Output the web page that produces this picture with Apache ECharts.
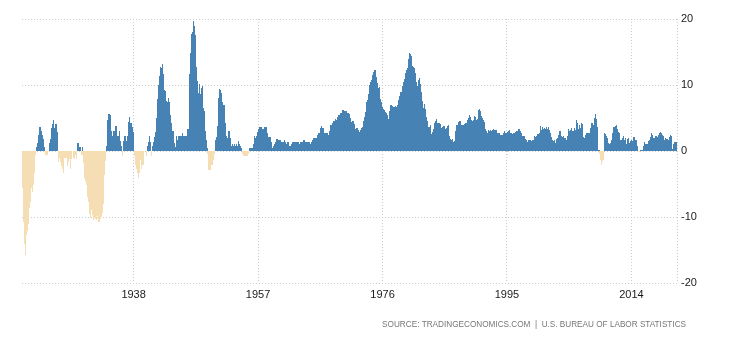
<!DOCTYPE html>
<html><head><meta charset="utf-8">
<script src="https://cdn.jsdelivr.net/npm/echarts@6/dist/echarts.min.js"></script>
<style>html,body{margin:0;padding:0;background:#fff}#c{width:730px;height:340px}</style>
</head><body><div id="c"></div>
<script>
// US inflation rate (YoY %, monthly), Jan 1921 .. Dec 2020
const startYear = 1921;
const infl1921to1930 = [
 -1.6,-5.6,-7.1,-10.8,-14.1,-15.8,-14.9,-12.8,-12.5,-12.1,-12.1,-10.8,
 -11.1,-8.2,-8.7,-7.7,-5.6,-5.1,-5.1,-6.2,-5.1,-4.6,-3.4,-2.3,
 -0.6,-0.6,0.6,1.2,1.2,1.8,2.4,3.0,3.6,3.6,3.0,2.4,
 3.0,2.4,1.8,0.6,0.6,0.0,-0.6,-0.6,-0.6,-0.6,-0.6,0.0,
 0.0,0.0,1.2,1.2,1.8,2.9,3.5,4.1,3.5,2.9,4.7,3.5,
 3.5,4.1,2.9,4.1,2.9,1.1,-1.1,-1.7,-1.1,-0.6,-1.7,-1.1,
 -2.2,-2.8,-2.8,-3.4,-2.2,-0.6,-1.1,-1.1,-1.1,-1.1,-2.3,-2.3,
 -1.1,-1.7,-1.2,-1.2,-1.1,-2.8,-1.2,-0.6,0.0,-1.1,-0.6,-1.2,
 -1.2,0.0,-0.6,-1.2,-1.2,0.0,1.2,1.2,0.0,0.6,0.6,0.6,
 0.0,-0.6,-0.6,0.6,-0.6,-1.8,-4.1,-4.6,-4.1,-4.6,-5.2,-6.4
];
const infl1931to1940 = [
 -7.0,-7.6,-7.7,-8.8,-9.5,-10.1,-9.0,-8.5,-9.6,-9.7,-10.4,-9.3,
 -10.1,-10.2,-10.3,-10.3,-10.5,-9.9,-9.9,-10.6,-10.7,-10.7,-10.2,-10.3,
 -9.8,-9.9,-10.0,-9.4,-8.0,-6.6,-3.7,-2.2,-1.5,-0.8,0.0,0.8,
 2.3,4.7,5.6,5.6,5.6,5.5,2.3,1.5,3.0,2.3,2.3,1.5,
 3.0,3.0,3.0,3.8,3.8,2.2,2.2,2.2,2.2,1.5,2.2,3.0,
 1.5,0.7,0.0,-0.7,-0.7,0.7,1.5,2.2,2.2,2.2,1.5,1.5,
 2.2,2.2,3.6,4.4,5.1,4.3,4.3,3.6,4.3,4.3,3.6,2.9,
 0.7,0.0,-0.7,-0.7,-2.1,-2.1,-2.8,-2.8,-3.4,-4.1,-3.4,-2.8,
 -1.4,-1.4,-1.4,-2.8,-2.1,-2.1,-2.1,-2.1,0.0,0.0,0.0,0.0,
 -0.7,0.7,0.7,1.4,1.4,2.2,1.4,1.4,-0.7,0.0,0.0,0.7
];
const infl1941to1950 = [
 1.4,0.7,1.4,2.1,2.9,4.3,5.0,6.4,7.9,9.3,10.0,9.9,
 11.3,12.1,12.7,12.6,13.2,10.9,11.6,10.7,9.3,9.2,9.1,9.0,
 7.6,7.0,7.5,8.1,7.4,7.4,6.1,4.8,5.5,4.2,3.6,3.0,
 3.0,3.0,1.2,0.6,0.0,0.6,1.7,2.3,1.7,1.7,1.7,2.3,
 2.3,2.3,2.3,1.7,2.3,2.8,2.3,2.3,2.3,2.3,2.3,2.2,
 2.2,1.7,2.8,3.4,3.4,3.3,9.4,11.6,12.7,14.9,17.7,18.1,
 18.1,18.8,19.7,19.0,18.4,17.6,12.1,11.4,12.7,10.6,8.4,8.8,
 10.2,9.3,6.8,8.7,9.1,9.5,9.9,8.9,6.5,6.1,4.8,3.0,
 1.3,1.3,1.7,0.4,-0.4,-0.8,-2.9,-2.9,-2.4,-2.9,-1.7,-2.1,
 -2.1,-1.3,-0.8,-1.3,-0.4,-0.4,1.7,2.1,2.1,3.8,3.8,5.9
];
const infl1951to1960 = [
 8.1,9.4,9.3,9.3,9.3,8.8,7.5,6.6,7.0,6.5,6.9,6.0,
 4.3,2.3,1.9,2.3,1.9,2.3,3.1,3.1,2.3,1.9,1.1,0.8,
 0.4,0.8,1.1,0.8,1.1,1.1,0.4,0.7,0.7,1.1,0.7,0.7,
 1.1,1.5,1.1,0.7,0.7,0.4,0.4,0.0,-0.4,-0.7,-0.4,-0.7,
 -0.7,-0.7,-0.7,-0.4,-0.7,-0.7,-0.4,-0.4,0.4,0.4,0.4,0.4,
 0.4,0.4,0.4,0.7,1.1,1.9,2.2,1.9,1.9,2.2,2.2,2.9,
 2.9,3.3,3.6,3.6,3.6,3.3,3.3,3.6,3.3,2.9,3.3,2.9,
 3.6,3.2,3.6,3.6,3.2,2.8,2.4,2.1,2.1,2.1,2.1,1.8,
 1.4,1.1,0.4,0.4,0.4,0.7,0.7,1.1,1.4,1.8,1.4,1.8,
 1.0,1.7,1.4,1.7,1.7,1.7,1.4,1.4,1.0,1.4,1.4,1.4
];
const infl1961to1970 = [
 1.7,1.4,1.4,1.0,1.0,0.7,1.3,1.0,1.3,0.7,0.7,0.7,
 0.7,1.0,1.0,1.3,1.3,1.3,1.0,1.3,1.3,1.3,1.3,1.3,
 1.3,1.0,1.3,1.0,1.0,1.3,1.3,1.3,1.0,1.3,1.3,1.6,
 1.6,1.6,1.3,1.3,1.3,1.3,1.3,1.0,1.3,1.0,1.3,1.0,
 1.0,1.0,1.3,1.6,1.6,1.9,1.6,1.9,1.6,1.9,1.6,1.9,
 1.9,2.5,2.5,2.8,2.8,2.5,2.8,3.5,3.5,3.8,3.5,3.5,
 3.5,2.8,2.8,2.5,2.8,2.8,2.8,2.5,2.8,2.5,2.8,3.0,
 3.6,3.9,3.9,3.9,3.9,4.2,4.5,4.5,4.5,4.8,4.8,4.7,
 4.4,4.7,5.2,5.5,5.5,5.5,5.4,5.7,5.7,5.7,5.9,6.2,
 6.2,6.1,5.8,6.1,6.0,6.0,6.0,5.4,5.7,5.7,5.6,5.6
];
const infl1971to1980 = [
 5.3,5.0,4.7,4.2,4.4,4.6,4.4,4.6,4.1,3.8,3.3,3.3,
 3.3,3.5,3.5,3.5,3.2,2.7,2.9,2.9,3.2,3.5,3.5,3.4,
 3.6,3.9,4.6,5.1,5.5,5.9,5.7,7.4,7.4,7.8,8.3,8.7,
 9.4,10.0,10.4,10.1,10.7,10.9,11.5,10.9,11.9,12.1,12.2,12.3,
 11.8,11.2,10.3,10.2,9.5,9.3,9.7,8.6,7.9,7.4,7.4,6.9,
 6.7,6.3,6.1,6.0,6.2,5.9,5.3,5.7,5.5,5.5,4.9,4.9,
 5.2,6.0,6.4,6.9,6.7,6.9,6.8,6.6,6.6,6.4,6.7,6.7,
 6.8,6.4,6.6,6.5,7.0,7.4,7.7,7.9,8.3,8.9,8.9,9.0,
 9.3,9.9,10.1,10.5,10.9,10.9,11.3,11.8,12.2,12.1,12.6,13.3,
 13.9,14.2,14.8,14.7,14.4,14.4,13.1,12.9,12.6,12.8,12.6,12.5
];
const infl1981to1990 = [
 11.8,11.4,10.5,10.0,9.8,9.6,10.8,10.8,11.0,10.1,9.6,8.9,
 8.4,7.6,6.8,6.5,6.7,7.1,6.4,5.9,5.0,5.1,4.6,3.8,
 3.7,3.5,3.6,3.9,3.5,2.6,2.5,2.6,2.9,2.9,3.3,3.8,
 4.2,4.6,4.8,4.6,4.2,4.2,4.2,4.3,4.3,4.3,4.1,3.9,
 3.5,3.5,3.7,3.7,3.8,3.8,3.6,3.3,3.1,3.2,3.5,3.8,
 3.9,3.1,2.2,1.6,1.5,1.8,1.6,1.6,1.8,1.5,1.3,1.1,
 1.5,2.1,3.0,3.8,3.9,3.7,3.9,4.3,4.4,4.5,4.5,4.4,
 4.0,3.9,3.9,3.9,3.9,4.0,4.1,4.0,4.2,4.2,4.2,4.4,
 4.7,4.8,5.0,5.1,5.4,5.2,5.0,4.7,4.3,4.5,4.7,4.6,
 5.2,5.3,5.2,4.7,4.4,4.7,4.8,5.6,6.2,6.3,6.3,6.1
];
const infl1991to2000 = [
 5.7,5.3,4.9,4.9,5.0,4.7,4.4,3.8,3.4,2.9,3.0,3.1,
 2.6,2.8,3.2,3.2,3.0,3.1,3.2,3.1,3.0,3.2,3.0,2.9,
 3.3,3.2,3.1,3.2,3.2,3.0,2.8,2.8,2.7,2.8,2.7,2.7,
 2.5,2.5,2.5,2.4,2.3,2.5,2.8,2.9,3.0,2.6,2.7,2.7,
 2.8,2.9,2.9,3.1,3.2,3.0,2.8,2.6,2.5,2.8,2.6,2.5,
 2.7,2.7,2.8,2.9,2.9,2.8,3.0,2.9,3.0,3.0,3.3,3.3,
 3.0,3.0,2.8,2.5,2.2,2.3,2.2,2.2,2.2,2.1,1.8,1.7,
 1.6,1.4,1.4,1.4,1.7,1.7,1.7,1.6,1.5,1.5,1.5,1.6,
 1.7,1.6,1.7,2.3,2.1,2.0,2.1,2.3,2.6,2.6,2.6,2.7,
 2.7,3.2,3.8,3.1,3.2,3.7,3.7,3.4,3.5,3.4,3.4,3.4
];
const infl2001to2010 = [
 3.7,3.5,2.9,3.3,3.6,3.2,2.7,2.7,2.6,2.1,1.9,1.6,
 1.1,1.1,1.5,1.6,1.2,1.1,1.5,1.8,1.5,2.0,2.2,2.4,
 2.6,3.0,3.0,2.2,2.1,2.1,2.1,2.2,2.3,2.0,1.8,1.9,
 1.9,1.7,1.7,2.3,3.1,3.3,3.0,2.7,2.5,3.2,3.5,3.3,
 3.0,3.0,3.1,3.5,2.8,2.5,3.2,3.6,4.7,4.3,3.5,3.4,
 4.0,3.6,3.4,3.5,4.2,4.3,4.1,3.8,2.1,1.3,2.0,2.5,
 2.1,2.4,2.8,2.6,2.7,2.7,2.4,2.0,2.8,3.5,4.3,4.1,
 4.3,4.0,4.0,3.9,4.2,5.0,5.6,5.4,4.9,3.7,1.1,0.1,
 0.0,0.2,-0.4,-0.7,-1.3,-1.4,-2.1,-1.5,-1.3,-0.2,1.8,2.7,
 2.6,2.1,2.3,2.2,2.0,1.1,1.2,1.1,1.1,1.2,1.1,1.5
];
const infl2011to2020 = [
 1.6,2.1,2.7,3.2,3.6,3.6,3.6,3.8,3.9,3.5,3.4,3.0,
 2.9,2.9,2.7,2.3,1.7,1.7,1.4,1.7,2.0,2.2,1.8,1.7,
 1.6,2.0,1.5,1.1,1.4,1.8,2.0,1.5,1.2,1.0,1.2,1.5,
 1.6,1.1,1.5,2.0,2.1,2.1,2.0,1.7,1.7,1.7,1.3,0.8,
 -0.1,0.0,-0.1,-0.2,0.0,0.1,0.2,0.2,0.0,0.2,0.5,0.7,
 1.4,1.0,0.9,1.1,1.0,1.0,0.8,1.1,1.5,1.6,1.7,2.1,
 2.5,2.7,2.4,2.2,1.9,1.6,1.7,1.9,2.2,2.0,2.2,2.1,
 2.1,2.2,2.4,2.5,2.8,2.9,2.9,2.7,2.3,2.5,2.2,1.9,
 1.6,1.5,1.9,2.0,1.8,1.6,1.8,1.7,1.7,1.8,2.1,2.3,
 2.5,2.3,1.5,0.3,0.1,0.6,1.0,1.3,1.4,1.2,1.2,1.4
];
const labelYears = [1938, 1957, 1976, 1995, 2014];
const yMin = -20, yMax = 20, yStep = 10;
const sourceText = 'SOURCE: TRADINGECONOMICS.COM  |  U.S. BUREAU OF LABOR STATISTICS';

const values = [].concat(infl1921to1930, infl1931to1940, infl1941to1950, infl1951to1960,
  infl1961to1970, infl1971to1980, infl1981to1990, infl1991to2000, infl2001to2010, infl2011to2020);
const months = values.map((v, i) => (startYear + Math.floor(i / 12)) + '-' + String(i % 12 + 1).padStart(2, '0'));
const isLabelIdx = (i) => i % 12 === 0 && labelYears.indexOf(startYear + Math.floor(i / 12)) >= 0;

const POS = '#4682b4', NEG = '#f5deb3';
function renderBar(params, api) {
  const idx = api.value(0);
  const v = api.value(1);
  if (!v) return null;
  const top = api.coord([idx, v]);
  const base = api.coord([idx, 0]);
  const x0 = Math.floor(top[0]);
  const y1 = Math.round(top[1]);
  const y0 = Math.round(base[1]);
  return {
    type: 'rect',
    shape: {x: x0, y: Math.min(y0, y1), width: 1, height: Math.max(1, Math.abs(y0 - y1))},
    style: {fill: v >= 0 ? POS : NEG}
  };
}

const chart = echarts.init(document.getElementById('c'), null, {renderer: 'canvas'});
chart.setOption({
  animation: false,
  backgroundColor: '#ffffff',
  grid: {left: 22, right: 53, top: 19, bottom: 57, containLabel: false},
  xAxis: {
    type: 'category',
    data: months,
    boundaryGap: true,
    axisLine: {show: false},
    axisTick: {show: true, length: 4, interval: (i) => isLabelIdx(i), alignWithLabel: true,
      lineStyle: {color: '#cccccc', type: [1, 2]}},
    axisLabel: {interval: (i) => isLabelIdx(i), formatter: (v) => v.slice(0, 4),
      color: '#1a1a1a', fontSize: 11, fontFamily: 'Liberation Sans, Arial, sans-serif', margin: 6},
    splitLine: {show: true, interval: (i) => isLabelIdx(i), lineStyle: {color: '#cccccc', type: [1, 2], width: 1}}
  },
  yAxis: {
    type: 'value', position: 'right', min: yMin, max: yMax, interval: yStep,
    axisLine: {show: false}, axisTick: {show: false},
    axisLabel: {color: '#1a1a1a', fontSize: 11, fontFamily: 'Liberation Sans, Arial, sans-serif', margin: 4},
    splitLine: {show: true, lineStyle: {color: '#cccccc', type: [1, 2], width: 1}}
  },
  series: [{
    type: 'custom',
    renderItem: renderBar,
    data: values.map((v, i) => [i, v]),
    encode: {x: 0, y: 1},
    emphasis: {disabled: true},
    silent: true
  }],
  graphic: [{
    type: 'text', right: 44, top: 321,
    style: {text: sourceText, fill: '#777', font: '8.2px "Liberation Sans", Arial, sans-serif'}
  }]
});
</script></body></html>
